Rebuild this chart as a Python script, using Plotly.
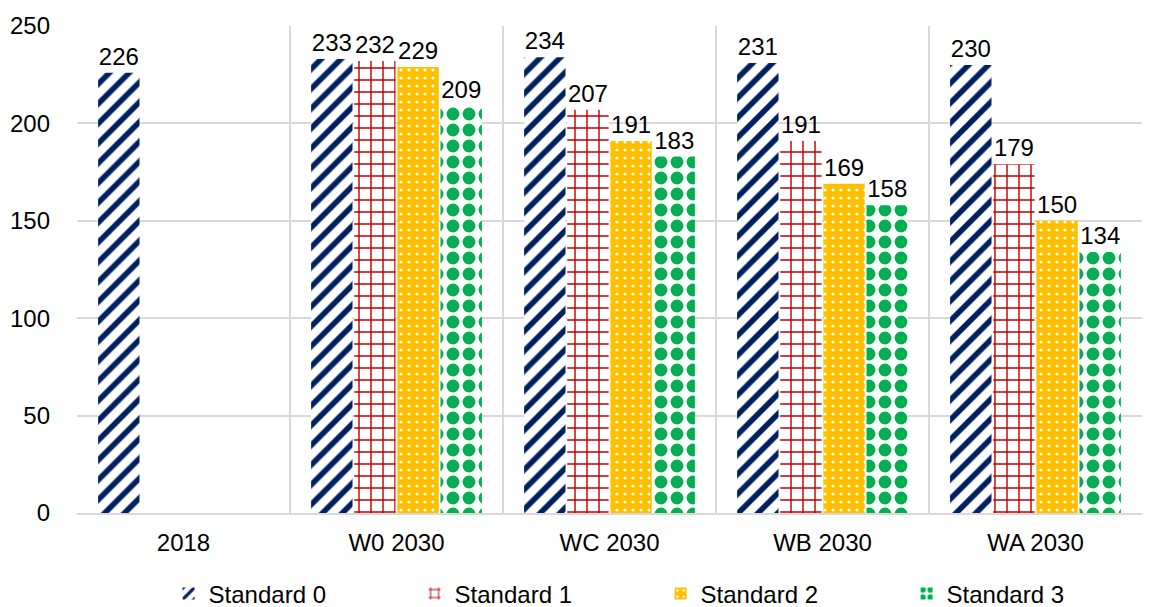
import plotly.graph_objects as go

categories = ["2018", "W0 2030", "WC 2030", "WB 2030", "WA 2030"]
series_names = ["Standard 0", "Standard 1", "Standard 2", "Standard 3"]
standard_0 = [226, 233, 234, 231, 230]
standard_1 = [None, 232, 207, 191, 179]
standard_2 = [None, 229, 191, 169, 150]
standard_3 = [None, 209, 183, 158, 134]
y_ticks = [0, 50, 100, 150, 200, 250]

series_values = [standard_0, standard_1, standard_2, standard_3]

# pattern styling per series
patterns = [
    dict(shape="/", fgcolor="#002060", bgcolor="white", size=14, solidity=0.4),
    dict(shape="+", fgcolor="#C00000", bgcolor="white", size=12, solidity=0.22),
    dict(shape=".", fgcolor="white", bgcolor="#FFC000", size=8, solidity=0.12),
    dict(shape=".", fgcolor="#00B050", bgcolor="white", size=16, solidity=0.5),
]

fig = go.Figure()
for name, vals, pat in zip(series_names, series_values, patterns):
    fig.add_trace(
        go.Bar(
            x=categories,
            y=vals,
            name=name,
            text=[str(v) if v is not None else "" for v in vals],
            textposition="outside",
            textfont=dict(size=24, color="black"),
            cliponaxis=False,
            marker=dict(
                color=pat["bgcolor"],
                line=dict(width=0),
                pattern=dict(
                    shape=pat["shape"],
                    fgcolor=pat["fgcolor"],
                    bgcolor=pat["bgcolor"],
                    size=pat["size"],
                    solidity=pat["solidity"],
                    fillmode="replace",
                ),
            ),
        )
    )

fig.update_layout(
    template="plotly_white",
    width=1152,
    height=607,
    barmode="group",
    bargap=0.19,
    bargroupgap=0.04,
    font=dict(family="Liberation Sans, Arial, sans-serif", size=24, color="black"),
    margin=dict(l=77, r=10, t=26, b=94, autoexpand=False),
    paper_bgcolor="white",
    plot_bgcolor="white",
    showlegend=True,
    legend=dict(
        orientation="h",
        x=0.086,
        xanchor="left",
        y=-0.12,
        yanchor="top",
        font=dict(size=24),
        entrywidth=201,
        itemwidth=30,
    ),
)

fig.update_xaxes(
    type="category",
    tickson="boundaries",
    showgrid=True,
    gridcolor="#D9D9D9",
    gridwidth=2,
    showline=True,
    linecolor="#D9D9D9",
    linewidth=2,
    ticks="",
    ticklabelstandoff=7,
    tickfont=dict(size=24),
)
fig.update_yaxes(
    range=[0, 250],
    tickvals=y_ticks,
    showgrid=True,
    gridcolor="#D9D9D9",
    gridwidth=2,
    zeroline=False,
    ticks="",
    ticklabelstandoff=26,
    tickfont=dict(size=24),
)

# the page body has a default 8px margin; drop it so the figure fills the window
fig.write_html(
    "out.html",
    config={"displayModeBar": False},
    post_script="document.body.style.margin='0';",
)
